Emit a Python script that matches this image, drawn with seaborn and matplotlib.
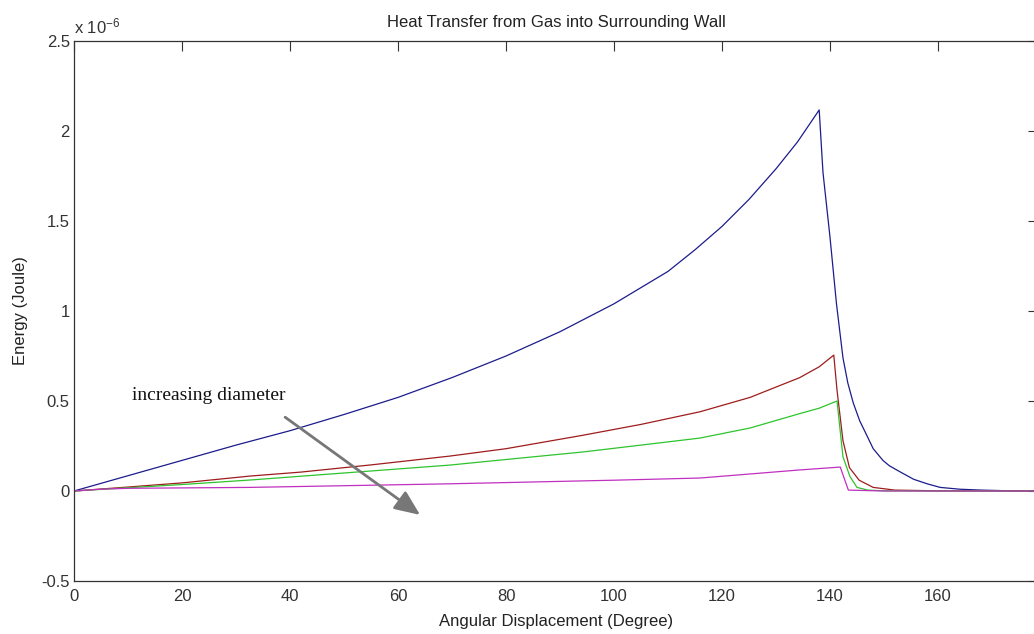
import numpy as np
import pandas as pd
import seaborn as sns
import matplotlib.pyplot as plt

# values (energy in units of 1e-6 J)
blue_x = [0, 10, 20, 30, 40, 50, 60, 70, 80, 90, 100, 110, 115, 120, 125, 130, 134, 138,
          138.7, 140, 141.2, 142.4, 143.3, 144.3, 145.5, 146.8, 148, 149.8, 151, 153, 155.5, 158, 160.4,
          164, 168, 172, 180]
blue_y = [0, 0.085, 0.17, 0.255, 0.335, 0.425, 0.52, 0.63, 0.75, 0.885, 1.04, 1.22, 1.34, 1.47, 1.62, 1.79, 1.94, 2.117,
          1.77, 1.41, 1.04, 0.74, 0.60, 0.49, 0.39, 0.31, 0.235, 0.17, 0.14, 0.106, 0.065, 0.04, 0.02,
          0.01, 0.005, 0.002, 0]

red_x = [0, 10, 20, 32.6, 42, 55, 69.6, 80, 94.3, 105, 115.9, 125.2, 134.4, 138, 140.7,
         141.3, 142.4, 143.6, 145.4, 148, 152, 160, 180]
red_y = [0, 0.022, 0.045, 0.083, 0.105, 0.145, 0.194, 0.235, 0.31, 0.37, 0.44, 0.52, 0.63, 0.69, 0.755,
         0.56, 0.28, 0.13, 0.06, 0.02, 0.005, 0.001, 0]

green_x = [0, 10, 20, 32.6, 50, 69.6, 80, 94.3, 105, 115.9, 125.2, 134.4, 138, 141.3,
           142.4, 143.7, 145, 147, 150, 160, 180]
green_y = [0, 0.018, 0.036, 0.061, 0.1, 0.144, 0.175, 0.217, 0.255, 0.294, 0.35, 0.43, 0.46, 0.50,
           0.19, 0.08, 0.02, 0.005, 0.001, 0, 0]

mag_x = [0, 5, 10, 32.6, 69.6, 100, 115.9, 134.4, 141.9, 143.4, 150, 180]
mag_y = [0, 0.01, 0.015, 0.02, 0.04, 0.06, 0.072, 0.117, 0.133, 0.005, 0.0, 0]

series_names = ['d1', 'd2', 'd3', 'd4']
colors = ['#1c1c8c', '#9e1c1c', '#2ec42e', '#c030c0']

frames = []
for name, xs, ys in zip(series_names, [blue_x, red_x, green_x, mag_x], [blue_y, red_y, green_y, mag_y]):
    frames.append(pd.DataFrame({'angle': xs, 'energy': ys, 'series': name}))
df = pd.concat(frames, ignore_index=True)

sns.set_style('white')
plt.rcParams['font.family'] = ['Liberation Sans', 'DejaVu Sans']
plt.rcParams['mathtext.default'] = 'regular'

x_max = 178.5
fig = plt.figure(figsize=(10.34, 6.34), dpi=100)
ax = fig.add_axes([74 / 1034, 53 / 634, x_max * 5.4 / 1034, 540 / 634])

sns.lineplot(data=df, x='angle', y='energy', hue='series', palette=dict(zip(series_names, colors)),
             legend=False, linewidth=0.9, sort=False, estimator=None, ax=ax)

ax.set_xlim(0, x_max)
ax.set_ylim(-0.5, 2.5)
ax.set_xticks(np.arange(0, 161, 20))
ax.set_yticks(np.arange(-0.5, 2.51, 0.5))
ax.set_yticklabels(['-0.5', '0', '0.5', '1', '1.5', '2', '2.5'])
ax.tick_params(direction='in', length=7.5, width=0.8, top=True, right=True,
               labelsize=12, colors='#333333', pad=6)
ax.tick_params(axis='y', pad=3)
for sp in ax.spines.values():
    sp.set_color('#333333')
    sp.set_linewidth(0.9)

ax.set_title('Heat Transfer from Gas into Surrounding Wall', fontsize=12, pad=10, color='#222222')
ax.set_xlabel('Angular Displacement (Degree)', fontsize=12, color='#222222')
ax.set_ylabel('Energy (Joule)', fontsize=12, color='#222222')
ax.xaxis.set_label_coords(0.5, -0.061)
ax.yaxis.set_label_coords(-0.048, 0.5)

ax.text(0.0, 1.0 + 8 / 540, r'x 10$^{-6}$', transform=ax.transAxes, fontsize=12,
        ha='left', va='baseline', color='#333333')

ax.text(10.7, 0.506, 'increasing diameter', fontsize=14, family=['Liberation Serif', 'DejaVu Serif'],
        color='#111111', va='baseline')
ax.annotate('', xy=(64.1, -0.133), xytext=(39.1, 0.41),
            arrowprops=dict(arrowstyle='-|>,head_length=0.7,head_width=0.3', color='#777777',
                            lw=2.0, mutation_scale=22, shrinkA=0, shrinkB=0))

fig.savefig('out.png', dpi=100)
